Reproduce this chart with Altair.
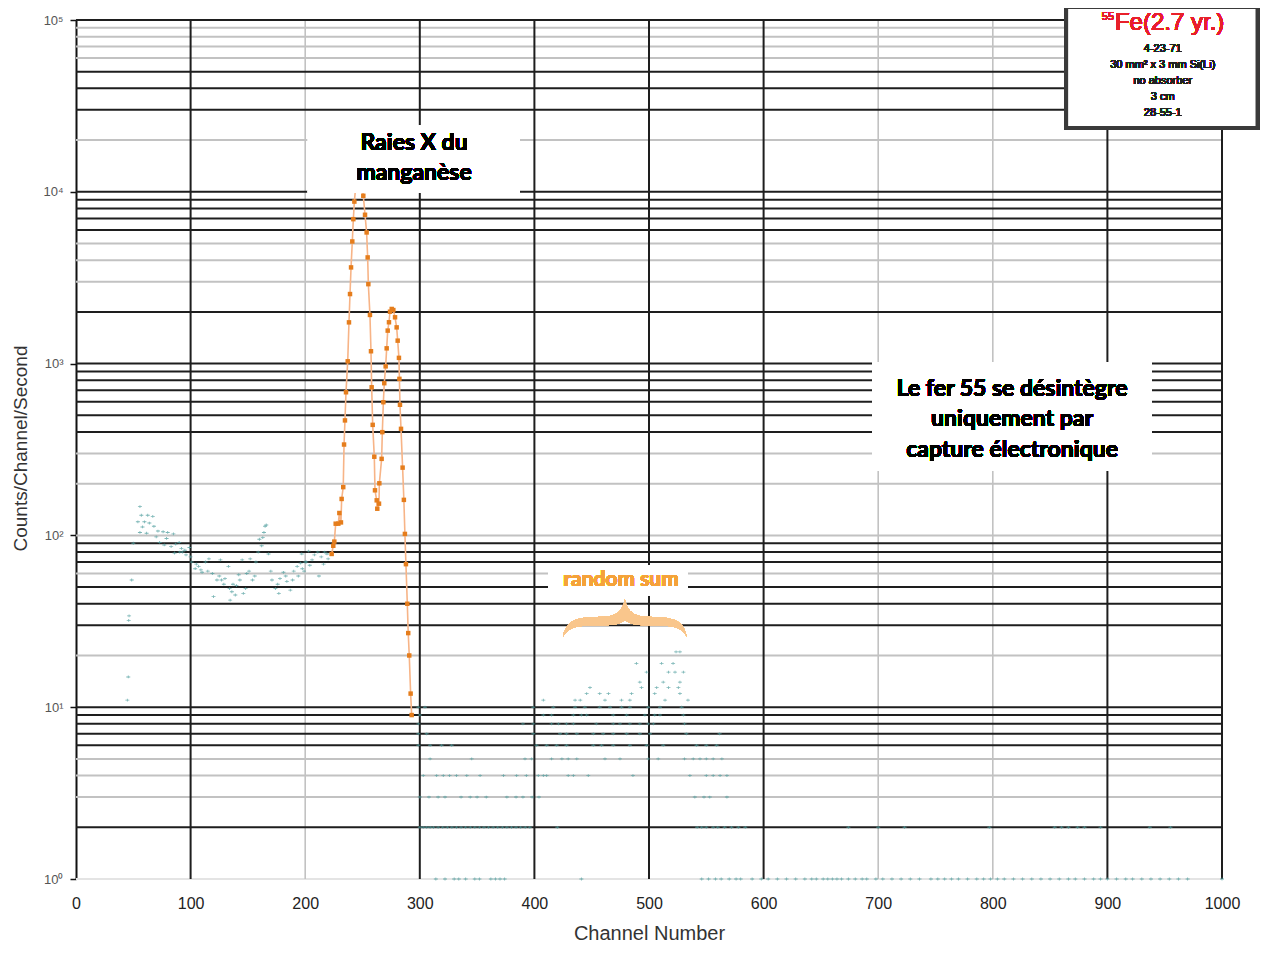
import altair as alt
import pandas as pd

# ---------------- data ----------------
# orange series: Mn X-ray peaks (channel, counts/channel/second)
orange = [(223.1, 78), (224.5, 87), (225.4, 92), (226.6, 117), (228.9, 117), (229.8, 135),
          (231.2, 119), (231.8, 163), (233.2, 191), (233.9, 338), (234.7, 467), (235.6, 681),
          (237.1, 1031), (238.2, 1738), (239.1, 2540), (240.0, 3630), (241.1, 5140), (242.0, 6930),
          (242.9, 8770), (244.5, 11500), (246.5, 13500), (248.5, 12800), (250.7, 9480), (252.2, 7350),
          (253.6, 5800), (254.5, 4150), (255.1, 2900), (256.5, 1920), (257.4, 1180), (258.0, 728),
          (258.9, 440), (260.3, 287), (260.9, 183), (262.4, 160), (262.9, 143), (264.4, 153),
          (264.7, 201), (266.7, 279), (267.3, 399), (268.2, 596), (269.0, 769), (270.2, 964),
          (271.1, 1227), (272.0, 1556), (273.1, 1740), (274.0, 2005), (275.5, 2080), (276.9, 2050),
          (278.4, 1860), (279.8, 1625), (280.7, 1360), (281.8, 1080), (282.2, 815), (282.7, 576),
          (283.6, 417), (285.0, 248), (286.1, 161), (287.0, 102), (287.9, 68), (289.1, 40),
          (289.9, 27), (290.8, 20), (292.0, 12), (292.9, 9)]

# teal background points, low-channel region
teal_low = [(44.8, 11), (45.6, 15), (46.0, 32), (46.3, 34), (48.6, 55), (50.0, 90), (55.8, 147),
            (57.0, 131), (54.0, 120), (59.7, 120), (62.6, 131), (67.0, 129), (68.0, 113), (55.8, 104),
            (61.6, 103), (71.5, 106), (76.0, 105), (80.0, 104), (85.0, 102), (73.0, 91), (77.0, 88),
            (83.0, 86), (87.0, 89), (90.0, 91), (86.0, 79), (90.5, 80), (93.0, 80), (96.0, 77),
            (99.0, 85), (100.0, 75), (101.0, 70), (104.0, 64), (107.0, 66), (110.0, 61), (113.0, 70),
            (116.0, 73), (119.0, 60), (120.0, 44), (123.0, 55), (126.0, 72), (127.0, 55), (130.0, 56),
            (133.0, 66), (134.0, 49), (136.0, 47), (137.0, 52), (139.0, 45), (140.0, 51), (142.0, 59),
            (143.0, 55), (145.0, 72), (146.0, 46), (148.0, 49), (149.0, 60), (152.0, 73), (154.0, 55),
            (134.5, 42), (157.0, 70), (159.0, 80), (160.0, 95), (162.0, 87), (163.0, 97), (165.0, 113),
            (166.0, 115), (168.0, 78), (171.0, 55), (174.0, 49), (177.0, 46), (178.0, 56), (181.0, 61),
            (184.0, 54), (187.0, 48), (190.0, 62), (193.0, 66), (194.0, 58), (196.0, 69), (197.0, 78),
            (197.5, 64), (199.0, 62), (200.0, 70), (201.0, 70), (203.0, 81), (204.0, 67), (208.0, 77),
            (211.0, 80), (212.0, 58), (214.0, 75), (217.0, 80), (220.0, 73),
            (58.0, 112), (64.0, 118), (70.0, 98), (79.0, 96), (92.0, 84), (95.0, 82), (105.0, 68),
            (109.0, 63), (115.0, 62), (125.0, 58), (129.0, 52), (151.0, 62), (156.0, 58), (164.0, 104),
            (170.0, 62), (176.0, 52), (183.0, 58), (189.0, 55), (206.0, 72), (216.0, 68), (219.0, 78)]

# teal background points, high-channel region (quantised count levels)
lvl_1 = [314, 322, 330, 334, 340, 348, 352, 362, 366, 370, 374, 441, 546, 552, 558, 563, 570, 576,
         580, 590, 598, 604, 612, 620, 628, 636, 642, 646, 652, 656, 660, 664, 668, 674, 680, 686,
         690, 698, 704, 712, 720, 728, 736, 746, 752, 758, 764, 770, 778, 786, 792, 798, 804, 810,
         818, 826, 834, 842, 850, 858, 866, 872, 880, 888, 894, 900, 908, 916, 922, 930, 938, 946,
         954, 962, 970, 1000]
lvl_2 = [300, 303, 306, 309, 312, 316, 320, 324, 328, 332, 336, 340, 344, 348, 352, 356, 360, 364,
         368, 372, 376, 380, 384, 388, 392, 396, 420, 542, 546, 550, 556, 560, 566, 572, 578, 584,
         674, 700, 723, 797, 854, 860, 866, 874, 880, 894, 937, 955]
lvl_3 = [300, 308, 316, 322, 336, 344, 350, 358, 376, 384, 390, 398, 404, 540, 548, 553, 568]
lvl_4 = [303, 314.7, 320.5, 326, 332, 341, 352.6, 373, 384.5, 393, 403.4, 407.8, 410.7, 429.5,
         434, 447, 486, 535.7, 550, 556, 562, 568]
lvl_5 = [309, 345.3, 391.8, 397.6, 415, 424, 429.5, 437, 461.6, 474.7, 499.4, 508, 531, 538.6,
         544.5, 550, 556, 563.6]
lvl_6 = [298.7, 309, 319, 327.8, 401.9, 410.7, 419.4, 428, 451.4, 458.6, 468.8, 483.3, 497.9,
         512.4, 541.5, 550, 559]
lvl_7 = [298.7, 306, 399, 422.4, 428, 437, 451.4, 460, 468.8, 480.5, 492, 500.9, 532.6, 561.6]
lvl_8 = [298.7, 390, 399, 415, 421, 428, 434, 454, 468.8, 474.7, 483.3, 492, 499.4, 503.8, 531]
lvl_9 = [300, 407.8, 415, 434, 441, 445.6, 468.8, 480.5, 496.4, 505, 509.6, 530]
lvl_10 = [298.7, 304.5, 399, 416.5, 435.5, 444, 457, 466, 476, 483.3, 499.4, 509.6, 528.5]
lvl_11 = [407.8, 435.5, 440, 461.6, 476, 483.3, 514, 534]
lvl_12 = [445.6, 457, 464.6, 484.8, 505, 527]
lvl_13 = [448.5, 493.5, 506.7, 517, 525.6]
lvl_14 = [492, 512.4, 527]
lvl_16 = [497.9, 517, 522.7, 530]
lvl_18 = [489, 511, 521]
lvl_21 = [523.6, 527]
level_values = [1, 2, 3, 4, 5, 6, 7, 8, 9, 10, 11, 12, 13, 14, 16, 18, 21]
level_lists = [lvl_1, lvl_2, lvl_3, lvl_4, lvl_5, lvl_6, lvl_7, lvl_8, lvl_9, lvl_10,
               lvl_11, lvl_12, lvl_13, lvl_14, lvl_16, lvl_18, lvl_21]

# grid / tick values
x_ticks = [0, 100, 200, 300, 400, 500, 600, 700, 800, 900, 1000]
grid_x_dark = [100, 300, 400, 500, 600, 900, 1000]
grid_x_light = [200, 700, 800]
y_ticks = [1, 10, 100, 1000, 10000, 100000]
grid_y_dark = [2, 6, 7, 8, 9, 10, 30, 40, 50, 70, 80, 90, 400, 500, 600, 700, 800, 900, 1000,
               2000, 6000, 7000, 8000, 9000, 10000, 30000, 40000, 50000, 100000]
grid_y_light = [3, 4, 5, 20, 60, 100, 200, 300, 3000, 4000, 5000, 20000, 60000, 70000, 80000, 90000]
grid_y_faint = [1]

# ---------------- tables ----------------
df_orange = pd.DataFrame(orange, columns=["ch", "val"])
rows = list(teal_low)
for v, lst in zip(level_values, level_lists):
    rows += [(c, v) for c in lst]
df_teal = pd.DataFrame(rows, columns=["ch", "val"])

xs = alt.Scale(domain=[0, 1000], nice=False, zero=False)
ys = alt.Scale(type="log", domain=[1, 100000], nice=False)

FONT = "Liberation Sans"
ANN = "Lato"
XT = "Channel Number"
YT = "Counts/Channel/Second"

label_expr = ("datum.value == 1 ? '10⁰' : datum.value == 10 ? '10¹' : datum.value == 100 ? '10²' : "
              "datum.value == 1000 ? '10³' : datum.value == 10000 ? '10⁴' : '10⁵'")

x_axis = alt.Axis(values=x_ticks, format="d", grid=False, domain=False, ticks=False,
                  labelFlush=False,
                  labelFont=FONT, labelFontSize=16, labelColor="#222", labelPadding=16,
                  titleFont=FONT, titleFontSize=20, titleFontWeight="normal",
                  titleColor="#333", titleY=54, titleBaseline="middle")
y_axis = alt.Axis(values=y_ticks, grid=False, domain=True, domainColor="#111",
                  domainWidth=2, ticks=True, tickColor="#111", tickSize=6, tickWidth=1.5,
                  labelExpr=label_expr, labelFont=FONT, labelFontSize=13,
                  labelColor="#555", labelPadding=7, labelFlush=False,
                  titleFont=FONT, titleFontSize=19, titleFontWeight="normal",
                  titleColor="#333", titleAngle=270, titleX=-56, titleY=428,
                  titleAlign="center", titleBaseline="middle")


def X(field):
    return alt.X(field, scale=xs, title=XT, axis=x_axis)


def Y(field):
    return alt.Y(field, scale=ys, title=YT, axis=y_axis)


def XD(v):
    return alt.XDatum(v, scale=xs, title=XT, axis=x_axis)


def YD(v):
    return alt.YDatum(v, scale=ys, title=YT, axis=y_axis)


plus_shape = "M-1,-0.22H1V0.22H-1Z M-0.22,-0.7H0.22V0.7H-0.22Z"
teal = alt.Chart(df_teal).mark_point(shape=plus_shape, filled=True, size=16, color="#4f9d9d",
                                     opacity=0.75, strokeWidth=0).encode(
    x=X("ch:Q"), y=Y("val:Q"))


def vrules(vals, color, width):
    return alt.Chart(pd.DataFrame({"gx": vals})).mark_rule(color=color, strokeWidth=width).encode(
        x=X("gx:Q"))


def hrules(vals, color, width):
    return alt.Chart(pd.DataFrame({"gy": vals})).mark_rule(color=color, strokeWidth=width).encode(
        y=Y("gy:Q"))


grid = [hrules(grid_y_faint, "#e4e4e4", 2), hrules(grid_y_light, "#c2c2c2", 2),
        vrules(grid_x_light, "#c2c2c2", 1.6), hrules(grid_y_dark, "#1e1e1e", 2),
        vrules(grid_x_dark, "#1e1e1e", 2)]

o_line = alt.Chart(df_orange).mark_line(color="#F7B487", strokeWidth=1.6).encode(
    x=X("ch:Q"), y=Y("val:Q"))
o_pts = alt.Chart(df_orange).mark_point(shape="square", filled=True, size=20, color="#E57D1C",
                                        opacity=1).encode(x=X("ch:Q"), y=Y("val:Q"))


def box(x1, x2, y1, y2, **kw):
    return alt.Chart(df_orange).mark_rect(**kw).encode(
        x=XD(x1), x2=alt.X2Datum(x2), y=YD(y1), y2=alt.Y2Datum(y2))


def label(x, y, text, **kw):
    return alt.Chart(df_orange).mark_text(**kw).encode(
        x=XD(x), y=YD(y), text=alt.value(text))


annots = [
    box(202.4, 387.4, 24200, 9860, fill="white"),
    label(295, 22300, "Raies X du\nmanganèse", font=ANN, fontSize=23, fontWeight="bold",
          color="#000", align="center", baseline="top", lineBreak="\n", lineHeight=30),
    box(694.6, 938.9, 1014, 239, fill="white"),
    label(816.8, 829, "Le fer 55 se désintègre\nuniquement par\ncapture électronique",
          font=ANN, fontSize=23, fontWeight="bold", color="#000", align="center",
          baseline="top", lineBreak="\n", lineHeight=30.5),
    box(412, 534, 66.9, 44.8, fill="white"),
    label(475.6, 54.7, "random sum", font=ANN, fontSize=21, fontWeight="bold",
          color="#F5A23A", align="center", baseline="middle"),
    box(864, 1031, 119000, 23500, fill="white", stroke="#3a3a3a", strokeWidth=4),
    label(906.6, 96100, "Fe(2.7 yr.)", font=FONT, fontSize=24, color="#E8202A",
          align="left", baseline="middle"),
    label(905.8, 104000, "55", font=FONT, fontSize=11, color="#E8202A",
          align="right", baseline="middle"),
    label(948.3, 73500, "4-23-71\n30 mm² x 3 mm Si(Li)\nno absorber\n3 cm\n28-55-1",
          font=FONT, fontSize=11, color="#222", align="center", baseline="top",
          lineBreak="\n", lineHeight=16),
]

brace_path = ("M-1,0.3 C-0.95,0.05 -0.8,-0.02 -0.45,-0.02 C-0.2,-0.02 -0.05,-0.05 0,-0.3 "
              "C0.05,-0.05 0.2,-0.02 0.45,-0.02 C0.8,-0.02 0.95,0.05 1,0.3 "
              "C0.9,0.13 0.75,0.12 0.45,0.12 C0.2,0.12 0.05,0.1 0,0.02 "
              "C-0.05,0.1 -0.2,0.12 -0.45,0.12 C-0.75,0.12 -0.9,0.13 -1,0.3 Z")
brace = alt.Chart(df_orange).mark_point(shape=brace_path, filled=True, size=15376,
                                        color="#F9C68C", opacity=1, strokeWidth=0).encode(
    x=XD(479), y=YD(33))

chart = alt.layer(*grid, teal, o_line, o_pts, *annots, brace).properties(
    width=1146, height=859,
    padding={"left": 68, "top": 12, "right": 38, "bottom": 64},
    autosize=alt.AutoSizeParams(type="none"),
    background="white",
).configure_view(stroke=None)

chart.save("out.html", embed_options={"renderer": "svg", "actions": False})
